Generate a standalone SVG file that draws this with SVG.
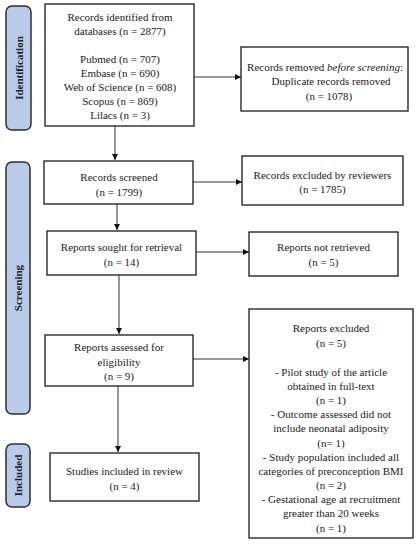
<svg xmlns="http://www.w3.org/2000/svg" width="419" height="550" viewBox="0 0 419 550">
<style>
.bg{fill:#ffffff}
.box{fill:#ffffff;stroke:#1a1a1a;stroke-width:1.3}
.pill{fill:#b9cbe8;stroke:#2a2f3a;stroke-width:1.5}
.t{font-family:"Liberation Serif","Times New Roman",serif;font-size:11px;fill:#222;text-anchor:middle}
.side{font-family:"Liberation Serif","Times New Roman",serif;font-size:11px;font-weight:bold;fill:#222;text-anchor:middle}
.con{stroke:#333;stroke-width:1;fill:none;marker-end:url(#ah)}
</style>
<defs>
<marker id="ah" viewBox="0 0 10 10" refX="10" refY="5" markerWidth="6" markerHeight="6" markerUnits="userSpaceOnUse" orient="auto">
<path d="M0,0 L10,5 L0,10 z" fill="#111"/>
</marker>
</defs>
<rect class="bg" x="0" y="0" width="419" height="550"/>

<g id="phase-identification">
<rect class="pill" x="6" y="6" width="25" height="124" rx="6"/>
<text class="side" transform="translate(22.5,68) rotate(-90)">Identification</text>
</g>
<g id="phase-screening">
<rect class="pill" x="6" y="162" width="24" height="252" rx="6"/>
<text class="side" transform="translate(22,288) rotate(-90)">Screening</text>
</g>
<g id="phase-included">
<rect class="pill" x="6" y="444" width="24" height="63" rx="6"/>
<text class="side" transform="translate(22,475.5) rotate(-90)">Included</text>
</g>

<g id="connectors">
<line class="con" x1="115" y1="126" x2="115" y2="160"/>
<line class="con" x1="194" y1="77" x2="241" y2="77"/>
<line class="con" x1="193" y1="182" x2="242" y2="182"/>
<line class="con" x1="117" y1="204" x2="117" y2="230"/>
<line class="con" x1="196" y1="252" x2="249" y2="252"/>
<line class="con" x1="119" y1="275" x2="119" y2="334"/>
<line class="con" x1="193" y1="359" x2="249" y2="359"/>
<line class="con" x1="118" y1="386" x2="118" y2="452"/>
</g>

<g id="records-identified">
<rect class="box" x="45" y="4" width="149" height="122"/>
<text class="t" x="120" y="21">Records identified from</text>
<text class="t" x="120" y="35">databases (n = 2877)</text>
<text class="t" x="120" y="63">Pubmed (n = 707)</text>
<text class="t" x="120" y="77">Embase (n = 690)</text>
<text class="t" x="120" y="91">Web of Science (n = 608)</text>
<text class="t" x="120" y="105">Scopus (n = 869)</text>
<text class="t" x="120" y="119">Lilacs (n = 3)</text>
</g>

<g id="records-removed">
<rect class="box" x="241" y="47" width="167" height="64"/>
<text class="t" x="325" y="71">Records removed <tspan font-style="italic">before screening</tspan>:</text>
<text class="t" x="331" y="85">Duplicate records removed</text>
<text class="t" x="329" y="100">(n = 1078)</text>
</g>

<g id="records-screened">
<rect class="box" x="44" y="161" width="149" height="43"/>
<text class="t" x="119" y="181">Records screened</text>
<text class="t" x="119" y="196">(n = 1799)</text>
</g>

<g id="records-excluded">
<rect class="box" x="242" y="156" width="161" height="49"/>
<text class="t" x="322.5" y="179">Records excluded by reviewers</text>
<text class="t" x="322.5" y="193">(n = 1785)</text>
</g>

<g id="reports-sought">
<rect class="box" x="47" y="231" width="149" height="44"/>
<text class="t" x="121.5" y="251">Reports sought for retrieval</text>
<text class="t" x="121.5" y="266">(n = 14)</text>
</g>

<g id="reports-not-retrieved">
<rect class="box" x="249" y="232" width="149" height="44"/>
<text class="t" x="323.5" y="251">Reports not retrieved</text>
<text class="t" x="323.5" y="266">(n = 5)</text>
</g>

<g id="reports-assessed">
<rect class="box" x="45" y="335" width="148" height="51"/>
<text class="t" x="119" y="351">Reports assessed for</text>
<text class="t" x="119" y="366">eligibility</text>
<text class="t" x="119" y="380">(n = 9)</text>
</g>

<g id="reports-excluded">
<rect class="box" x="249" y="309" width="164" height="229"/>
<text class="t" x="331" y="332">Reports excluded</text>
<text class="t" x="331" y="347">(n = 5)</text>
<text class="t" x="331" y="376">- Pilot study of the article</text>
<text class="t" x="331" y="390">obtained in full-text</text>
<text class="t" x="331" y="404">(n = 1)</text>
<text class="t" x="331" y="418">- Outcome assessed did not</text>
<text class="t" x="331" y="432">include neonatal adiposity</text>
<text class="t" x="331" y="447">(n= 1)</text>
<text class="t" x="331" y="461">- Study population included all</text>
<text class="t" x="331" y="475">categories of preconception BMI</text>
<text class="t" x="331" y="489">(n = 2)</text>
<text class="t" x="331" y="503">- Gestational age at recruitment</text>
<text class="t" x="331" y="517">greater than 20 weeks</text>
<text class="t" x="331" y="532">(n = 1)</text>
</g>

<g id="studies-included">
<rect class="box" x="50" y="453" width="149" height="48"/>
<text class="t" x="124.5" y="475">Studies included in review</text>
<text class="t" x="124.5" y="490">(n = 4)</text>
</g>
</svg>
